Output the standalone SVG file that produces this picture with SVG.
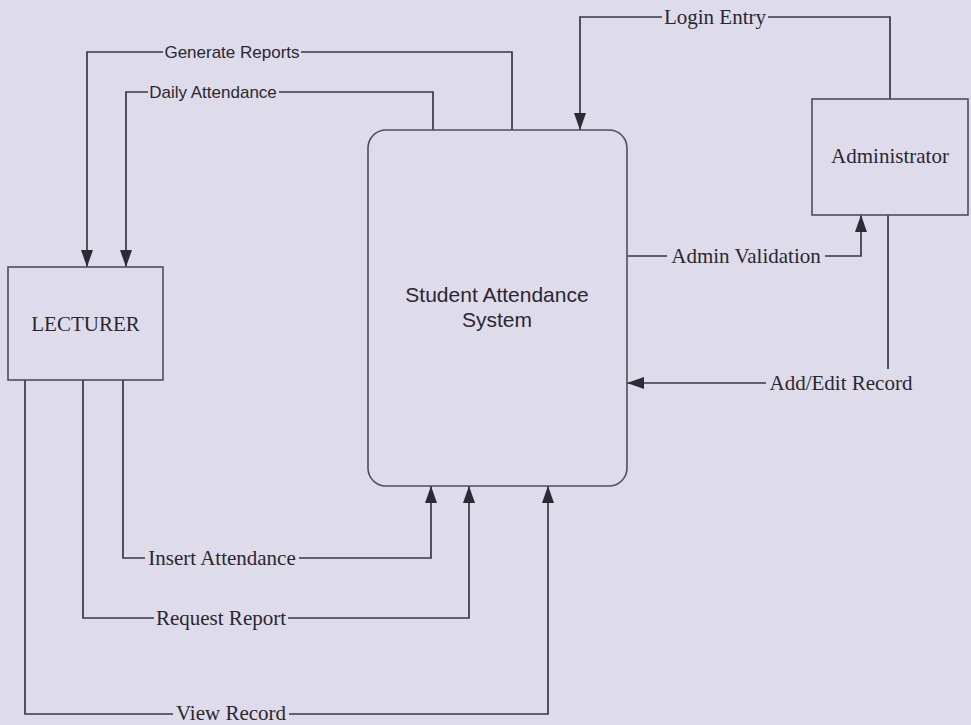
<svg xmlns="http://www.w3.org/2000/svg" width="971" height="725" viewBox="0 0 971 725">
<style>
.bg{fill:#dedbea}
.box{fill:none;stroke:#524d5a;stroke-width:1.6}
.conn{fill:none;stroke:#3b3742;stroke-width:1.7}
.lblbg{fill:#dedbea}
.serif{font-family:"Liberation Serif","Times New Roman",serif;font-size:21px;fill:#2b2730;text-anchor:middle}
.sans{font-family:"Liberation Sans",Arial,sans-serif;font-size:17px;fill:#2b2730;text-anchor:middle}
.main{font-family:"Liberation Sans",Arial,sans-serif;font-size:21px;fill:#2b2730;text-anchor:middle}
</style>
<defs>
<marker id="arr" markerUnits="userSpaceOnUse" viewBox="0 0 17 12" refX="17" refY="6" markerWidth="17" markerHeight="12" orient="auto">
<path d="M0,0 L17,6 L0,12 Z" fill="#2e2a33"/>
</marker>
</defs>
<rect class="bg" x="0" y="0" width="971" height="725"/>

<g id="connectors">
<path class="conn" d="M512,130 V52 H87 V267" marker-end="url(#arr)"/>
<path class="conn" d="M433,130 V92 H126 V267" marker-end="url(#arr)"/>
<path class="conn" d="M890,99 V17 H580 V130" marker-end="url(#arr)"/>
<path class="conn" d="M627,256 H861 V215" marker-end="url(#arr)"/>
<path class="conn" d="M888,215 V383 H627" marker-end="url(#arr)"/>
<path class="conn" d="M123,380 V558 H431 V486" marker-end="url(#arr)"/>
<path class="conn" d="M83,380 V618 H469 V486" marker-end="url(#arr)"/>
<path class="conn" d="M25,380 V714 H548 V486" marker-end="url(#arr)"/>
</g>

<g id="labels">
<rect class="lblbg" x="163" y="42" width="138" height="22"/>
<text class="sans" x="232" y="58">Generate Reports</text>
<rect class="lblbg" x="148" y="82" width="131" height="22"/>
<text class="sans" x="213" y="98">Daily Attendance</text>
<rect class="lblbg" x="662" y="5" width="106" height="24"/>
<text class="serif" x="715" y="24">Login Entry</text>
<rect class="lblbg" x="667" y="244" width="158" height="24"/>
<text class="serif" x="746" y="263">Admin Validation</text>
<rect class="lblbg" x="766" y="369" width="151" height="26"/>
<text class="serif" x="841" y="390">Add/Edit Record</text>
<rect class="lblbg" x="145" y="546" width="154" height="24"/>
<text class="serif" x="222" y="565">Insert Attendance</text>
<rect class="lblbg" x="154" y="606" width="134" height="24"/>
<text class="serif" x="221" y="625">Request Report</text>
<rect class="lblbg" x="173" y="702" width="116" height="23"/>
<text class="serif" x="231" y="720">View Record</text>
</g>

<g id="lecturer">
<rect class="box" x="8" y="267" width="155" height="113"/>
<text class="serif" x="85.5" y="331">LECTURER</text>
</g>

<g id="administrator">
<rect class="box" x="812" y="99" width="156" height="116"/>
<text class="serif" x="890" y="163">Administrator</text>
</g>

<g id="system">
<rect class="box" x="368" y="130" width="259" height="356" rx="18" ry="18"/>
<text class="main" x="497" y="302">Student Attendance</text>
<text class="main" x="497" y="327">System</text>
</g>
</svg>
